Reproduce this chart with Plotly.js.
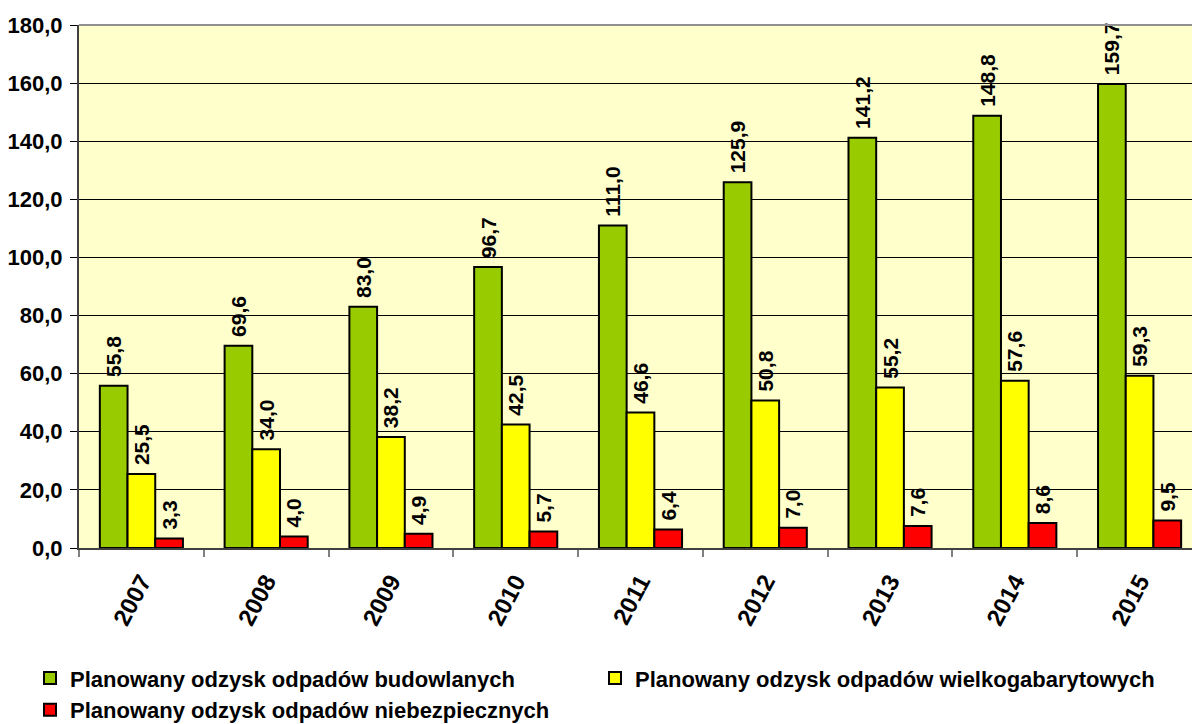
<!DOCTYPE html>
<html>
<head>
<meta charset="utf-8">
<script src="https://cdn.plot.ly/plotly-3.0.1.min.js"></script>
<style>
  html, body { margin: 0; padding: 0; background: #ffffff; overflow: hidden; }
  #chart { width: 1192px; height: 724px; }
</style>
</head>
<body>
<div id="chart"></div>
<script>
// Years on the x axis
const years = ['2007', '2008', '2009', '2010', '2011', '2012', '2013', '2014', '2015'];

// Planned recovery, three waste streams
const budowlane = [55.8, 69.6, 83.0, 96.7, 111.0, 125.9, 141.2, 148.8, 159.7];
const wielkogabarytowe = [25.5, 34.0, 38.2, 42.5, 46.6, 50.8, 55.2, 57.6, 59.3];
const niebezpieczne = [3.3, 4.0, 4.9, 5.7, 6.4, 7.0, 7.6, 8.6, 9.5];

const seriesNames = [
  'Planowany odzysk odpadów budowlanych',
  'Planowany odzysk odpadów wielkogabarytowych',
  'Planowany odzysk odpadów niebezpiecznych'
];
const seriesColors = ['#99CC00', '#FFFF00', '#FF0000'];

// polish number format: 55,8 (nbsp in front lifts the label off the bar a bit)
function fmt(v) {
  return '\u00A0' + v.toFixed(1).replace('.', ',');
}

function makeTrace(values, i) {
  return {
    type: 'bar',
    name: seriesNames[i],
    x: years,
    y: values,
    text: values.map(fmt),
    textposition: 'outside',
    textangle: -90,
    constraintext: 'none',
    cliponaxis: false,
    textfont: { family: 'Liberation Sans, Arial, sans-serif', size: 21, color: '#000000', weight: 'bold' },
    marker: { color: seriesColors[i], line: { color: '#000000', width: 2 } },
    hoverinfo: 'x+y+name'
  };
}

const data = [budowlane, wielkogabarytowe, niebezpieczne].map(makeTrace);

const layout = {
  width: 1192,
  height: 724,
  margin: { l: 79, r: 0, t: 25, b: 176, autoexpand: false },
  paper_bgcolor: '#ffffff',
  plot_bgcolor: '#FFFFCC',
  font: { family: 'Liberation Sans, Arial, sans-serif', color: '#000000' },
  barmode: 'group',
  bargap: 0.334,
  bargroupgap: 0,
  showlegend: true,
  legend: {
    orientation: 'h',
    x: -0.044,
    xanchor: 'left',
    y: -0.209,
    yanchor: 'top',
    entrywidth: 520,
    entrywidthmode: 'pixels',
    traceorder: 'normal',
    font: { size: 22, weight: 'bold', color: '#000000' },
    bgcolor: 'rgba(0,0,0,0)'
  },
  xaxis: {
    type: 'category',
    range: [-0.5, 8.42],
    tickangle: -62,
    tickfont: { size: 24, weight: 'bold' },
    ticks: 'outside',
    tickson: 'boundaries',
    ticklen: 7,
    tickwidth: 2,
    tickcolor: '#808080',
    ticklabelstandoff: 8,
    showline: true,
    linecolor: '#404040',
    linewidth: 2,
    showgrid: false,
    zeroline: false,
    fixedrange: true
  },
  yaxis: {
    range: [0, 180],
    dtick: 20,
    tick0: 0,
    tickformat: '.1f',
    tickfont: { size: 22, weight: 'bold' },
    ticks: 'outside',
    ticklen: 7,
    tickwidth: 1,
    tickcolor: '#000000',
    ticklabelstandoff: 3,
    showline: true,
    linecolor: '#404040',
    linewidth: 2,
    showgrid: true,
    gridcolor: '#000000',
    gridwidth: 1,
    zeroline: false,
    fixedrange: true
  },
  separators: ', ',
  shapes: [
    {
      type: 'line', xref: 'paper', yref: 'paper',
      x0: 0, x1: 1, y0: 1, y1: 1,
      line: { color: '#909090', width: 2 }
    }
  ]
};

Plotly.newPlot('chart', data, layout, { displayModeBar: false, staticPlot: true });
</script>
</body>
</html>
